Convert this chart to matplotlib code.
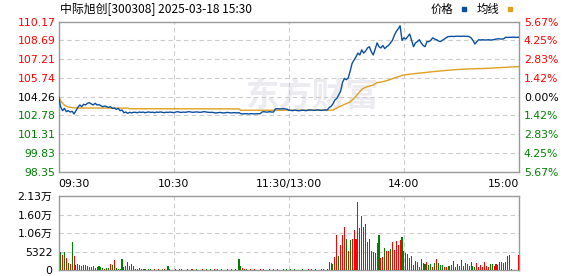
import numpy as np
import matplotlib
matplotlib.use("Agg")
import matplotlib.pyplot as plt

plt.rcParams['font.family'] = ['DejaVu Sans', 'Noto Sans CJK SC']

# ---- data ----
prev_close = 104.26
price_ticks = [98.35, 99.83, 101.31, 102.78, 104.26, 105.74, 107.21, 108.69, 110.17]
pct_labels = ['5.67%', '4.25%', '2.83%', '1.42%', '0.00%', '1.42%', '2.83%', '4.25%', '5.67%']
time_ticks = [0, 60, 120, 180, 240]
time_labels = ['09:30', '10:30', '11:30/13:00', '14:00', '15:00']
vol_ticks = [0, 5322, 10644, 15966, 21288]
vol_labels = ['0', '5322', '1.06万', '1.60万', '2.13万']

price_am = [
    104.26, 103.47, 103.16, 103.34, 103.08, 103.16, 103.05, 103.11, 102.90, 103.16,
    103.42, 103.61, 103.47, 103.66, 103.61, 103.74, 103.79, 103.69, 103.61, 103.74,
    103.61, 103.63, 103.55, 103.47, 103.53, 103.47, 103.42, 103.47, 103.34, 103.37,
    103.26, 103.34, 103.16, 103.21, 103.00, 103.05, 102.95, 103.03, 102.98, 103.03,
    103.03, 103.00, 103.05, 103.02, 103.05, 103.00, 103.03, 103.06, 103.02, 103.04,
    103.00, 103.05, 103.03, 103.06, 103.03, 103.00, 103.04, 103.02, 103.05, 103.03,
    103.00, 103.05, 103.08, 103.04, 103.02, 103.05, 103.03, 103.06, 103.08, 103.05,
    103.03, 103.05, 103.06, 103.04, 103.03, 103.06, 103.08, 103.05, 103.03, 103.02,
    103.03, 103.00, 102.98, 103.00, 103.02, 103.00, 102.98, 103.00, 103.02, 103.00,
    102.98, 103.00, 103.00, 102.98, 103.00, 102.92, 102.90, 102.92, 102.92, 102.90,
    102.92, 102.92, 102.90, 102.92, 102.92, 102.92, 103.05, 103.08, 103.05, 103.05,
    103.08, 103.05, 103.05, 103.30, 103.32, 103.30, 103.30, 103.32, 103.30, 103.28,
    103.20,
]
price_pm = [
    103.18, 103.16, 103.20, 103.18, 103.15, 103.17, 103.20, 103.18, 103.16, 103.20,
    103.22, 103.20, 103.18, 103.20, 103.22, 103.20, 103.18, 103.20, 103.22, 103.21,
    103.40, 103.50, 103.70, 104.00, 104.13, 104.40, 104.70, 105.40, 105.70, 105.60,
    105.75, 106.30, 106.90, 107.15, 107.40, 107.70, 107.55, 107.95, 107.70, 107.85,
    108.10, 108.20, 107.80, 107.55, 108.00, 108.50, 108.20, 108.10, 108.30, 108.05,
    108.20, 108.30, 108.50, 108.70, 109.10, 109.40, 109.60, 109.85, 108.70, 108.90,
    108.80, 109.00, 109.20, 108.70, 108.20, 108.50, 108.60, 108.75, 108.50, 108.30,
    108.20, 108.60, 108.60, 108.70, 108.90, 108.80, 108.75, 108.65, 108.60, 108.70,
    108.80, 108.90, 109.00, 109.00, 109.02, 109.00, 109.02, 109.03, 109.02, 109.02,
    109.03, 109.02, 109.02, 109.00, 108.90, 108.70, 108.41, 108.60, 108.75, 108.73,
    108.75, 108.73, 108.73, 108.75, 108.73, 108.73, 108.76, 108.80, 108.82, 108.82,
    108.80, 108.82, 108.94, 108.93, 108.94, 108.94, 108.95, 108.94, 108.94, 108.94,
]
price = price_am + price_pm

avg_idx = [0, 1, 2, 3, 4, 5, 6, 8, 36, 37, 94, 95, 143, 146, 150, 152, 155, 157,
           158.5, 161, 164, 166, 169, 172, 176, 180, 185, 190, 195, 205, 212, 223, 230, 240]
avg_val = [104.26, 103.95, 103.75, 103.60, 103.50, 103.45, 103.42, 103.37, 103.36, 103.31,
           103.30, 103.19, 103.20, 103.45, 103.72, 103.85, 104.30, 104.66, 104.90, 105.05,
           105.18, 105.37, 105.44, 105.57, 105.79, 105.97, 106.07, 106.15, 106.23, 106.37,
           106.44, 106.49, 106.55, 106.63]

vol_am = [
    5470, 5180, 4320, 5180, 3460, 2100, 1820, 8160, 4030, 1540,
    1730, 1340, 1250, 1440, 1440, 1150, 860, 960, 1150, 670,
    860, 1150, 960, 580, 290, 580, 580, 1730, 1440, 2980,
    480, 290, 200, 3270, 860, 1150, 2300, 1150, 1820, 1150,
    380, 290, 480, 200, 150, 180, 120, 250, 160, 140,
    200, 130, 170, 110, 150, 190, 120, 1150, 160, 130,
    140, 180, 120, 150, 170, 110, 140, 160, 130, 190,
    150, 120, 170, 140, 110, 160, 130, 150, 120, 180,
    140, 160, 120, 150, 130, 170, 110, 140, 160, 120,
    150, 130, 180, 140, 3170, 1150, 580, 380, 160, 130,
    150, 120, 170, 140, 110, 160, 130, 150, 120, 140,
    160, 130, 150, 120, 170, 140, 110, 150, 130, 160,
    140,
]
vol_pm = [
    150, 120, 160, 140, 110, 130, 150, 120, 140, 160,
    130, 150, 120, 170, 140, 130, 160, 150, 120, 180,
    2300, 2020, 1730, 3740, 10080, 4030, 7200, 10080, 12380, 8930,
    5470, 8640, 8930, 11520, 8930, 19580, 12100, 15550, 12380, 13250,
    8060, 8930, 5570, 5180, 4900, 7780, 10080, 3460, 3740, 6340,
    5470, 5470, 6050, 8060, 5760, 8350, 7200, 8640, 9500, 5470,
    4900, 4610, 3460, 4030, 1440, 2590, 2300, 860, 3170, 2020,
    1730, 2300, 1440, 1730, 860, 2020, 3170, 2020, 1440, 1440,
    860, 860, 1150, 1150, 1440, 2590, 860, 1730, 1150, 2880,
    1150, 2020, 1730, 1150, 2300, 1150, 860, 2020, 860, 1440,
    860, 2300, 1150, 860, 1730, 1730, 1150, 1730, 1440, 2300,
    2300, 2020, 2300, 4030, 4320, 290, 0, 0, 0, 4320,
]
volume = vol_am + vol_pm

# r = up minute, g = down minute
dir_am = ("ggrgrgrgrr" "rgrrrrrrgr" "rgggrggrgr" "ggggrggrgr"
          "grrgrgrggr" "rgrggrggrr" "grgrrgrggr" "rggrgrrgrg"
          "grgrggrrgr" "grggggrrgr" "rgrgrrgrgg" "rgrgrggrrg" "r")
dir_pm = ("gggggggrrr" "ggrggrrgrg"
          "rrgrrgrrrg" "rgrrrrgrgg" "rggrrrgrrg" "rrgrrrrrgg"
          "rrrgggrrrg" "grggrgrggg" "rrgrrggrrr" "rggrgggrrr"
          "rrrrggrrrr" "rrrgrrrrrr")
direction = dir_am + dir_pm

# ---- figure ----
W, H = 578, 276
fig = plt.figure(figsize=(W / 100, H / 100), dpi=100)
fig.patch.set_facecolor('white')

RED = '#ff0000'
GREEN = '#008000'
BLUE = '#0b4fa0'
ORANGE = '#e0a020'
GRID = '#cccccc'
FRAME = '#999999'

left, right = 58.7, 519.0
axp = fig.add_axes([left / W, 1 - 171.7 / H, (right - left) / W, 150 / H])
axv = fig.add_axes([left / W, 1 - 270 / H, (right - left) / W, 74 / H])

x = np.arange(len(price))

# watermark
axp.text(0.55, 0.5, '东方财富', transform=axp.transAxes, ha='center', va='center',
         fontsize=24, fontweight='bold', color='#ececf0',
         family=['Noto Sans CJK SC'], zorder=0)

axp.plot(x, price, color=BLUE, lw=1.0, zorder=3)
axp.plot(avg_idx, avg_val, color=ORANGE, lw=1.0, zorder=2)
axp.set_xlim(0, 240)
axp.set_ylim(price_ticks[0], price_ticks[-1])

cols = [RED if d == 'r' else GREEN for d in direction]
axv.bar(x, volume, width=0.55, color=cols, antialiased=False, zorder=3)
axv.set_xlim(0, 240)
axv.set_ylim(0, vol_ticks[-1])

for ax in (axp, axv):
    for s in ax.spines.values():
        s.set_color(FRAME)
        s.set_linewidth(1.0)
    ax.tick_params(length=0)
    ax.set_facecolor('none')
    for t in time_ticks[1:-1]:
        ax.axvline(t, color=GRID, lw=0.8, ls=(0, (4, 3)), zorder=1)

for p in price_ticks[1:-1]:
    axp.axhline(p, color=GRID, lw=0.8, ls=(0, (4, 3)), zorder=1)
for v in vol_ticks[1:-1]:
    axv.axhline(v, color=GRID, lw=0.8, ls=(0, (4, 3)), zorder=1)

def level_color(i):
    if price_ticks[i] > prev_close + 0.001:
        return RED
    if price_ticks[i] < prev_close - 0.001:
        return GREEN
    return 'black'

# left price labels
axp.set_yticks(price_ticks)
axp.set_yticklabels(['%.2f' % p for p in price_ticks], fontsize=7.8)
axp.tick_params(axis='y', pad=2.5)
for i, lab in enumerate(axp.get_yticklabels()):
    lab.set_color(level_color(i))

# right percent labels
axr = axp.twinx()
axr.set_ylim(axp.get_ylim())
axr.set_yticks(price_ticks)
axr.set_yticklabels(pct_labels[::-1], fontsize=7.8)
axr.tick_params(length=0, pad=3.5)
for s in axr.spines.values():
    s.set_visible(False)
for i, lab in enumerate(axr.get_yticklabels()):
    lab.set_color(level_color(i))

# time labels
axp.set_xticks(time_ticks)
axp.set_xticklabels(time_labels, fontsize=7.8)
axp.tick_params(axis='x', pad=5)
labs = axp.get_xticklabels()
labs[0].set_ha('left')
labs[-1].set_ha('right')

axv.set_xticks([])
axv.set_yticks(vol_ticks)
axv.set_yticklabels(vol_labels, fontsize=7.8, family=['DejaVu Sans', 'Noto Sans CJK SC'])
axv.tick_params(axis='y', pad=4.5)

# header
fig.text(60 / W, 1 - 9 / H, '中际旭创[300308] 2025-03-18 15:30', ha='left', va='center',
         fontsize=8.6, family=['Noto Sans CJK SC', 'DejaVu Sans'])
fig.text(431 / W, 1 - 9 / H, '价格', ha='left', va='center', fontsize=8.2,
         family=['Noto Sans CJK SC'])
fig.patches.append(plt.Rectangle((462 / W, 1 - 11 / H), 4 / W, 4 / H, color=BLUE,
                                 transform=fig.transFigure, figure=fig))
fig.text(477 / W, 1 - 9 / H, '均线', ha='left', va='center', fontsize=8.2,
         family=['Noto Sans CJK SC'])
fig.patches.append(plt.Rectangle((508 / W, 1 - 11 / H), 4 / W, 4 / H, color=ORANGE,
                                 transform=fig.transFigure, figure=fig))

fig.savefig('out.png', dpi=100)
